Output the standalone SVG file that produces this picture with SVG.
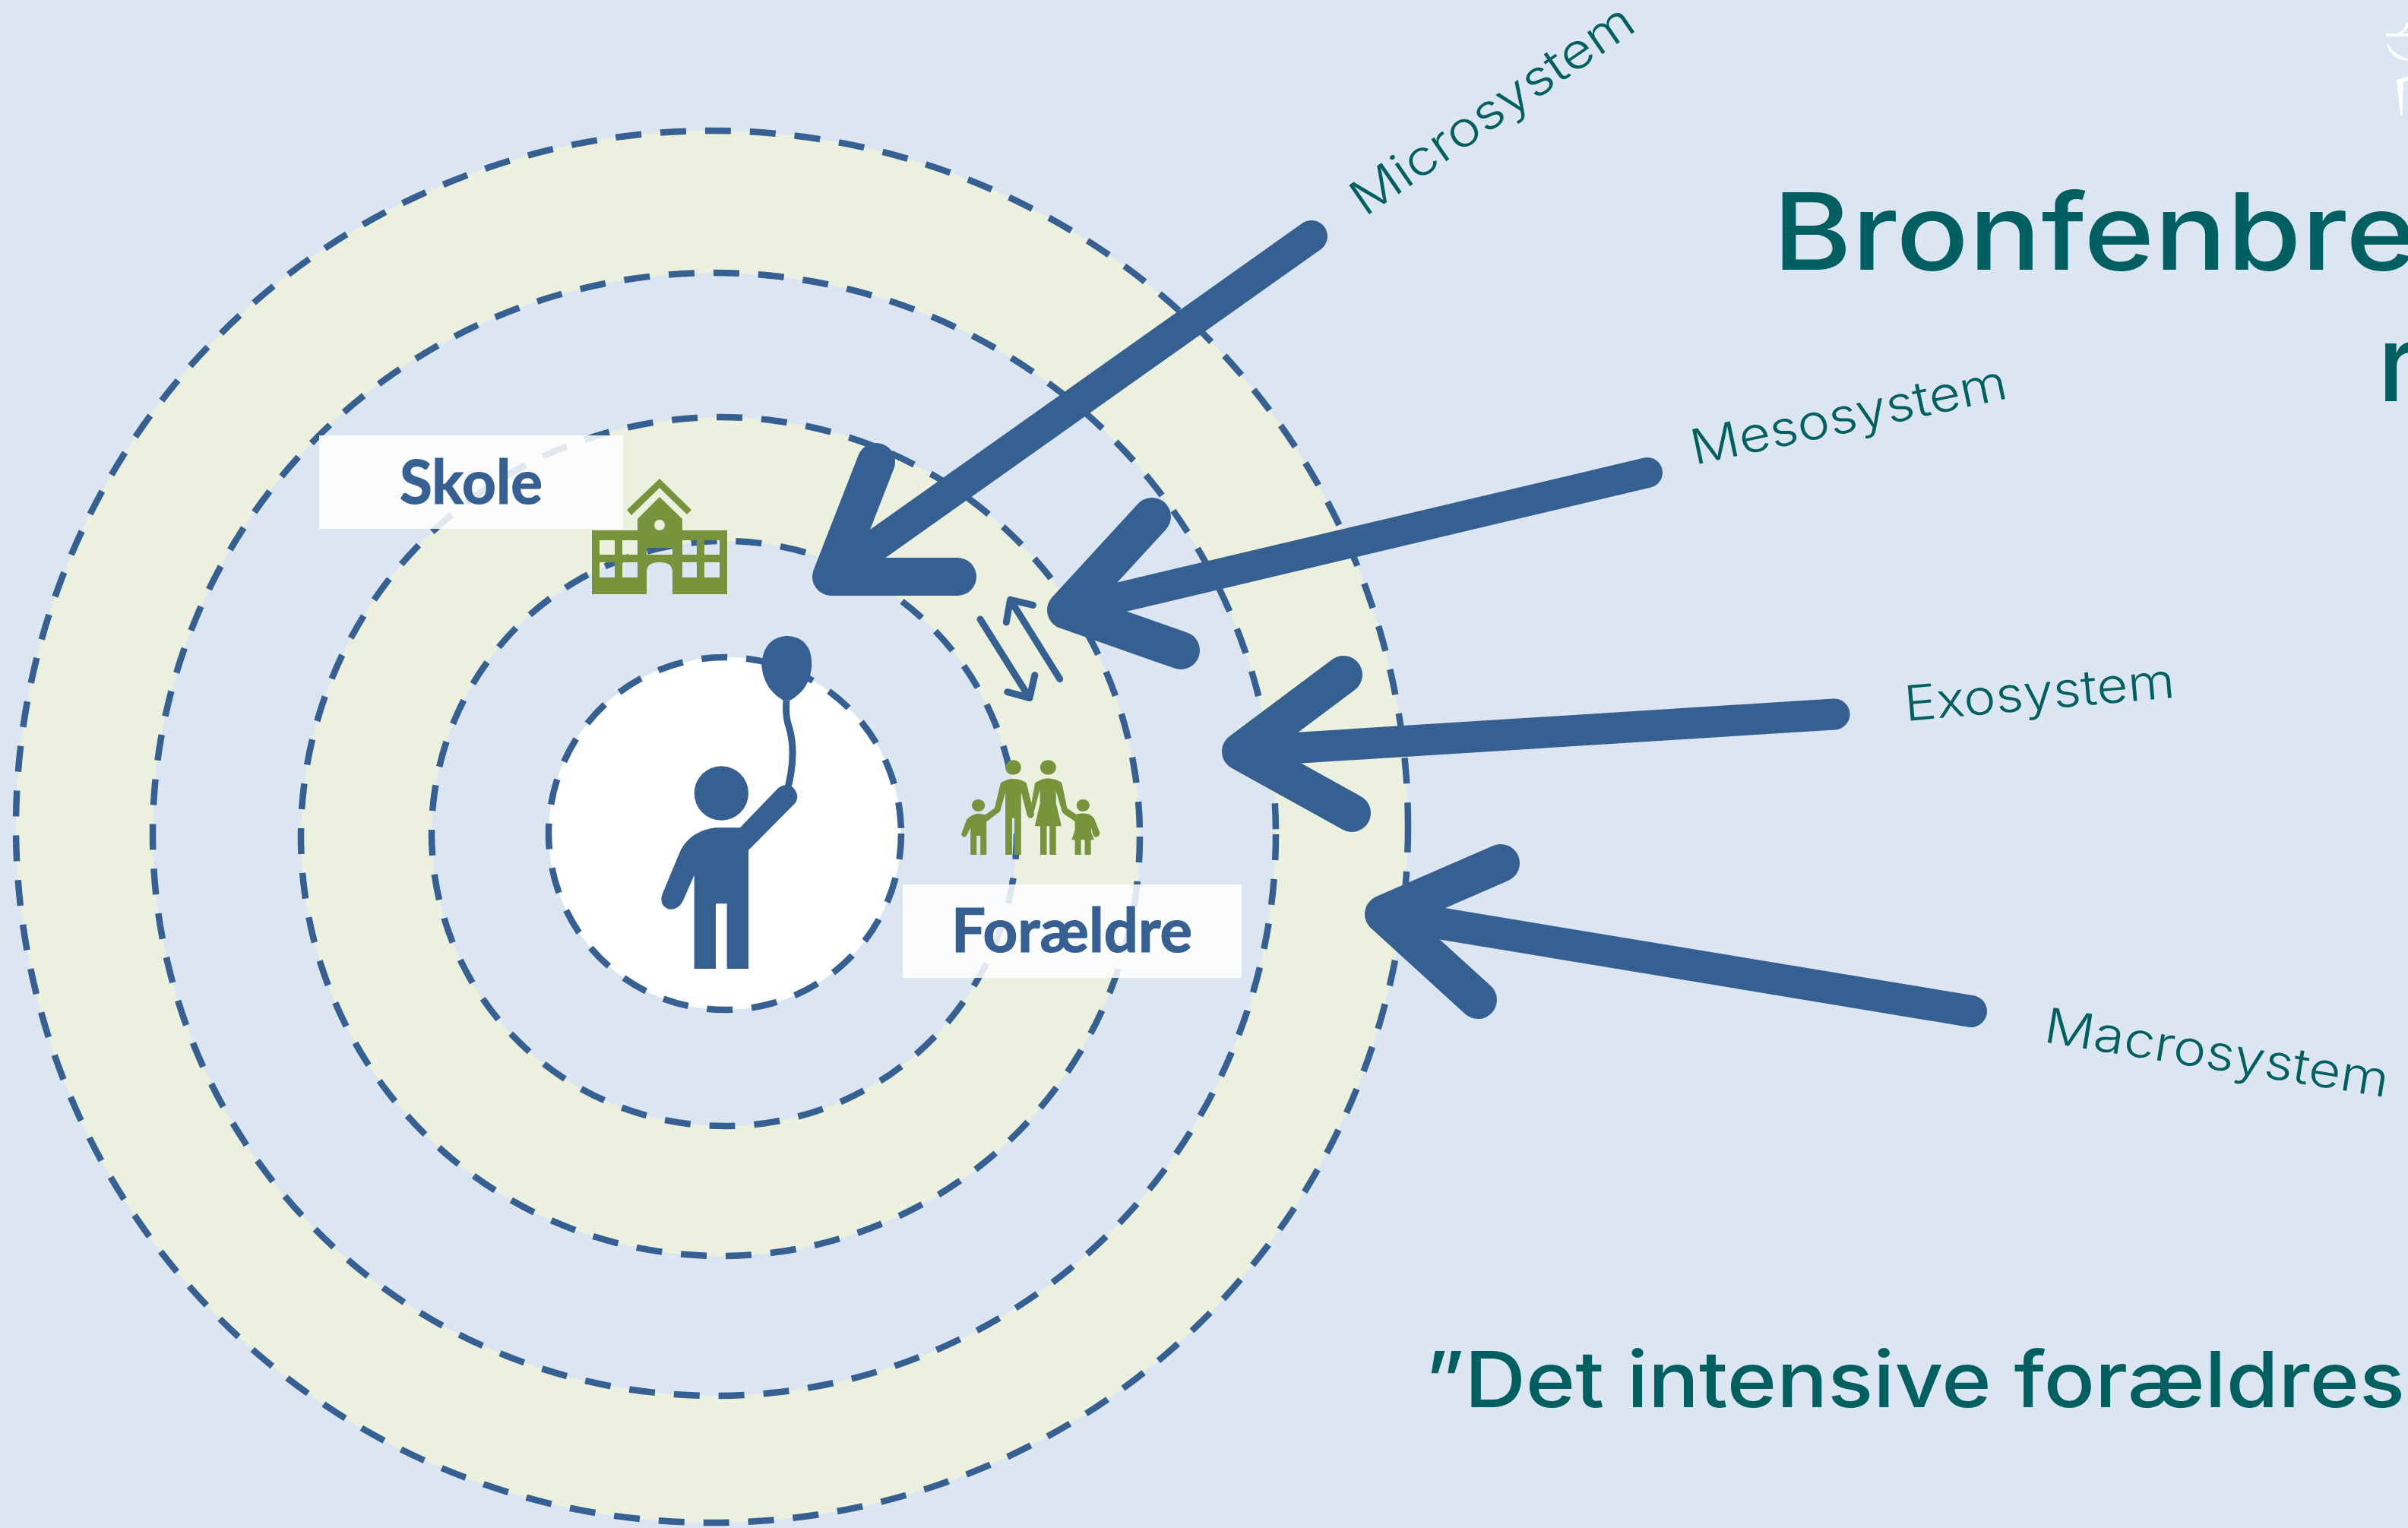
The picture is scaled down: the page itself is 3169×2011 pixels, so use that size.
<svg xmlns="http://www.w3.org/2000/svg" width="3169" height="2011" viewBox="0 0 3169 2011">
<style>
.ring{stroke:#376092;stroke-width:8.500;stroke-dasharray:34 25}
.g{fill:#EBF1DE}.b{fill:#DCE6F2}
.shaft{fill:none;stroke:#376092;stroke-linecap:round}
.head{fill:none;stroke:#376092;stroke-width:50;stroke-linecap:round;stroke-linejoin:round}
.thin{fill:none;stroke:#376092;stroke-width:9;stroke-linecap:round;stroke-linejoin:round}
.lab{font-family:"Lato","Liberation Sans",sans-serif;font-weight:700;font-size:80px;fill:#376092;stroke:#376092;stroke-width:1.200}
.sys{font-family:"Inter","Liberation Sans",sans-serif;font-weight:350;font-size:64px;fill:#005F60}
.ttl{font-family:"Inter","Liberation Sans",sans-serif;font-weight:500;fill:#005F60}
.box{fill:#fff;fill-opacity:.85}
.ic{fill:#77933C}.kid{fill:#376092}
</style>
<rect width="3169" height="2011" fill="#DCE6F2"/>
<g id="macro-ring"><circle class="ring g" cx="937" cy="1088" r="916"/></g>
<g id="exo-ring"><circle class="ring b" cx="940" cy="1098" r="739"/></g>
<g id="meso-ring"><circle class="ring g" cx="948" cy="1101" r="552"/></g>
<g id="micro-ring"><circle class="ring b" cx="953" cy="1097" r="385"/></g>
<g id="child-ring"><circle class="ring" fill="#fff" cx="954" cy="1097" r="232"/></g>

<g id="child" transform="translate(820 800) scale(.33333)">
<circle class="kid" cx="388" cy="732" r="107"/>
<path class="kid" d="M365 868L462 868L612 712Q640 690 670 708Q700 740 680 770L495 957L495 1425L410 1425L410 1168L366 1168L366 1425L281 1425L281 1055L235 1160Q215 1195 180 1190Q140 1175 155 1130L228 955Q270 880 365 868Z"/>
<path d="M645 365Q640 430 655 470Q685 570 652 705" fill="none" stroke="#376092" stroke-width="27"/>
<path class="kid" d="M645 110Q745 115 745 225Q740 320 660 365L632 365Q555 320 547 230Q550 120 645 110Z"/>
</g>

<g id="school">
<path class="ic" fill-rule="evenodd" d="M779 698H839V683L868 654L898 683V698H957V782H885V753Q885 740 868 740Q851 740 851 753V782H779Z
M789 711V730H809V711ZM819 711V730H839V711ZM898 711V730H917V711ZM927 711V730H947V711Z
M789 740V760H809V740ZM819 740V760H839V740ZM898 740V760H917V740ZM927 740V760H947V740Z
M851 721V730H885V721Z
M868 684a7 7 0 1 0 .01 0Z"/>
<path class="ic" d="M868 630L910 671L904 677L868 642L831 678L825 671Z"/>
</g>

<g id="family" class="ic" transform="translate(1100 750) scale(.38271 .35714)">
<circle cx="610" cy="728" r="27.500"/><circle cx="730" cy="728" r="27.500"/>
<circle cx="490" cy="868" r="22.500"/><circle cx="850" cy="868" r="22.500"/>
<path d="M567 785Q590 770 610 770Q640 772 655 785L682 900Q680 915 668 915Q660 913 658 905L637 820V1050H614V915H606V1050H583V820L565 890L518 928L514 902L546 878Z"/>
<path d="M450 920Q470 898 490 898L515 902L518 928V1050H497V980H484V1050H463V950L448 982Q438 990 431 975Z"/>
<path d="M685 785Q710 768 730 768Q760 770 777 785L795 878L828 902L824 928L785 900Q778 895 775 880L757 815V860L776 944H757V1050H735V944H725V1050H703V944H684L702 860V810L680 895Q672 915 665 905Z"/>
<path d="M890 920L908 970Q905 985 892 985Q885 985 878 950V965L888 995H877V1050H856V995H843V1050H822V995H811L822 960V928L828 900Q850 895 870 900Q885 908 890 920Z"/>
</g>

<g id="connectors">
<path class="shaft" stroke-width="42" d="M1726 311L1094 759"/>
<path class="head" d="M1153 608L1094 759H1260"/>
<path class="shaft" stroke-width="40" d="M2168 622L1403 803"/>
<path class="head" d="M1516 680L1403 803L1554 856"/>
<path class="shaft" stroke-width="41" d="M2414 940L1633 989"/>
<path class="head" d="M1768 888L1633 989L1779 1070"/>
<path class="shaft" stroke-width="42" d="M2594 1331L1821 1203"/>
<path class="head" d="M1975 1136L1821 1203L1945 1316"/>
<path class="thin" d="M1290 815L1355 918.600M1325.800 910.700L1355 918.600L1361.800 888.600"/>
<path class="thin" d="M1394.700 893.600L1329.600 789.300M1324.300 819L1329.600 789.300L1359.500 796.400"/>
</g>

<g id="skole"><rect class="box" x="420" y="573" width="400" height="123"/>
<text class="lab" x="526" y="663" textLength="188" lengthAdjust="spacingAndGlyphs">Skole</text></g>
<g id="foraeldre"><rect class="box" x="1188" y="1164" width="446" height="123"/>
<text class="lab" x="1252" y="1253" textLength="317" lengthAdjust="spacingAndGlyphs">Forældre</text></g>

<g id="labels">
<text class="sys" transform="translate(1796 286) rotate(-34.500)" textLength="437" lengthAdjust="spacingAndGlyphs">Microsystem</text>
<text class="sys" transform="translate(2230 612) rotate(-12)" textLength="424" lengthAdjust="spacingAndGlyphs">Mesosystem</text>
<text class="sys" transform="translate(2508 949) rotate(-5)" textLength="357" lengthAdjust="spacingAndGlyphs">Exosystem</text>
<text class="sys" transform="translate(2688 1371) rotate(9.200)" textLength="458" lengthAdjust="spacingAndGlyphs">Macrosystem</text>
<text class="ttl" x="2333" y="355" font-size="140" textLength="847" lengthAdjust="spacingAndGlyphs">Bronfenbre</text>
<text class="ttl" x="3129" y="528" font-size="140">r</text>
<text class="ttl" x="1875" y="1852" font-size="102" textLength="1290" lengthAdjust="spacingAndGlyphs">”Det intensive forældres</text>
</g>

<g id="logo-fragment" fill="#fff">
<rect x="3140" y="44" width="29" height="4"/>
<path d="M3156 44Q3164 40 3167 30L3169 30V36Q3166 42 3160 44Z"/>
<path d="M3142 57Q3152 74 3169 77V80Q3148 78 3142 62Z"/>
<path d="M3154 105L3169 101V106L3163 108Q3162 125 3161.500 152H3159Z"/>
</g>
</svg>
